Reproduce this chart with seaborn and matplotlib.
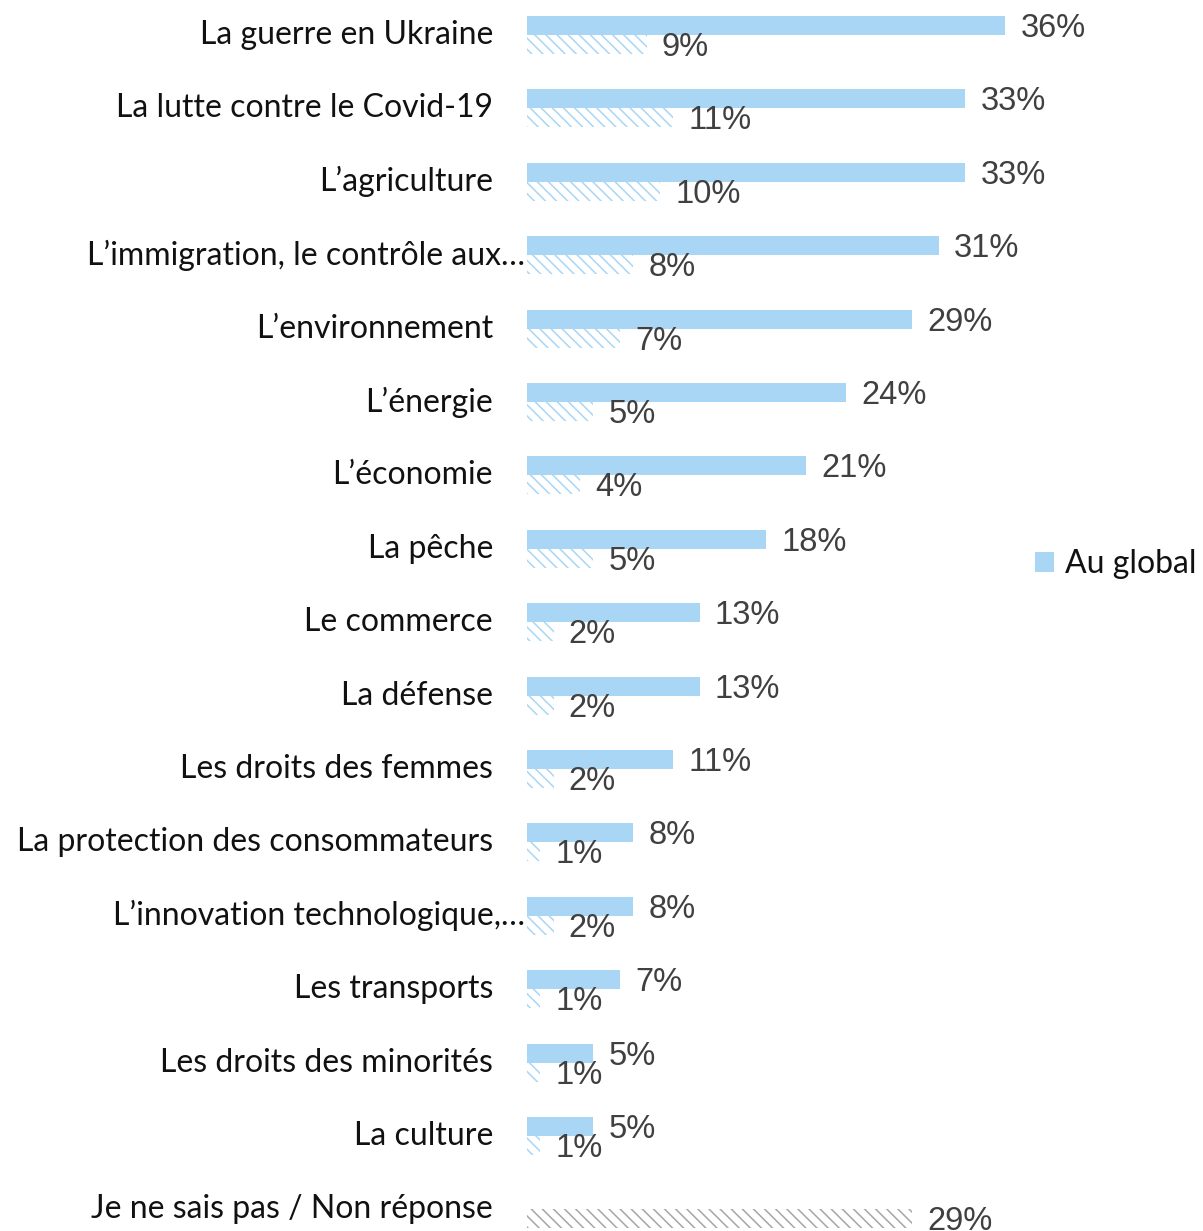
import matplotlib
matplotlib.use("Agg")
import matplotlib.pyplot as plt
import matplotlib.transforms as mtransforms
from matplotlib.patches import Patch
import seaborn as sns
import pandas as pd
import numpy as np

categories = [
    "La guerre en Ukraine",
    "La lutte contre le Covid-19",
    "L’agriculture",
    "L’immigration, le contrôle aux…",
    "L’environnement",
    "L’énergie",
    "L’économie",
    "La pêche",
    "Le commerce",
    "La défense",
    "Les droits des femmes",
    "La protection des consommateurs",
    "L’innovation technologique,…",
    "Les transports",
    "Les droits des minorités",
    "La culture",
    "Je ne sais pas / Non réponse",
]
au_global = [36, 33, 33, 31, 29, 24, 21, 18, 13, 13, 11, 8, 8, 7, 5, 5, np.nan]
sous_groupe = [9, 11, 10, 8, 7, 5, 4, 5, 2, 2, 2, 1, 2, 1, 1, 1, 29]
series_names = ["Au global", "Sous-groupe"]
truncated = {"L’immigration, le contrôle aux…", "L’innovation technologique,…"}

BLUE = "#A9D6F5"
GREY = "#A6A6A6"
TXT = "#404040"

rows = []
for c, g, s in zip(categories, au_global, sous_groupe):
    rows.append({"cat": c, "serie": series_names[0], "val": g})
    rows.append({"cat": c, "serie": series_names[1], "val": s})
df = pd.DataFrame(rows)

sns.set_theme(style="white")
plt.rcParams["hatch.linewidth"] = 1.1

W, H = 1203, 1231
fig = plt.figure(figsize=(W / 100, H / 100), dpi=100)
x0 = 527 / W
ax = fig.add_axes([x0, 0, 1 - x0, 1])

sns.barplot(data=df, y="cat", x="val", hue="serie", order=categories,
            hue_order=series_names, orient="h", width=0.52, ax=ax,
            palette=[BLUE, BLUE], saturation=1, legend=False, errorbar=None)

px_per_pct = (1005 - 527) / 36
ax.set_xlim(0, (W - 527) / px_per_pct)
row_h = 73.4
top_c = 35
ax.set_ylim((H - top_c) / row_h, -top_c / row_h)
ax.axis("off")

solid = ax.containers[0]
hatched = ax.containers[1]
for p in solid:
    p.set_linewidth(0)
for p, c in zip(hatched, categories):
    p.set_facecolor("white")
    p.set_edgecolor(GREY if c.startswith("Je ne sais") else BLUE)
    p.set_linewidth(0)
    p.set_hatch("\\\\\\")

for cont in ax.containers:
    anns = ax.bar_label(cont, labels=[("" if np.isnan(v) else f"{v:.0f}%") for v in cont.datavalues],
                        padding=11, fontsize=23.5, color=TXT, family="Liberation Sans")
    for a in anns:
        a.xyann = (11, -2.2)

trans = mtransforms.blended_transform_factory(fig.transFigure, ax.transData)
for i, c in enumerate(categories):
    xr = (525 if c in truncated else 493) / W
    ax.text(xr, i, c, transform=trans, ha="right", va="center",
            fontsize=23, family="Lato", color="#111111")

fig.legend(handles=[Patch(facecolor=BLUE, edgecolor="none", label="Au global")],
           loc="center left", bbox_to_anchor=(1035 / W, 1 - 564 / H),
           frameon=False, borderpad=0, borderaxespad=0,
           handlelength=0.6, handleheight=0.6, handletextpad=0.35,
           prop={"family": "Lato", "size": 23}, labelcolor="#111111")

fig.savefig("out.png", dpi=100)
